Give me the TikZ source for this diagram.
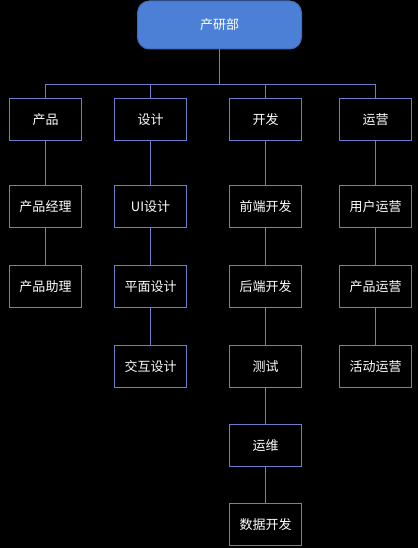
\documentclass[tikz,border=0pt]{standalone}
\usepackage{fontspec}
\setmainfont{Noto Sans CJK SC}
\definecolor{headfill}{RGB}{76,128,214}
\definecolor{headline}{RGB}{66,108,190}
\definecolor{boxline}{RGB}{110,126,204}
\begin{document}
\begin{tikzpicture}[x=1pt,y=-1pt,
    head/.style={draw=headline,fill=headfill,rounded corners=12pt,line width=1pt,
                 minimum width=164pt,minimum height=48pt,inner sep=0pt,text=white,font=\fontsize{13}{15}\selectfont},
    box/.style={draw=boxline,fill=black,line width=1.2pt,
                minimum width=72pt,minimum height=42pt,inner sep=0pt,text=white,font=\fontsize{13}{15}\selectfont},
    link/.style={draw=boxline,line width=1.2pt}]
    % background
    \fill [black] (0,0) rectangle (418,548);
    \useasboundingbox (0,0) rectangle (418,548);

    % top node
    \node [head] (dept) at (219.5,25) {产研部};

    % first level
    \node [box] (prod) at (45.5,119.5) {产品};
    \node [box] (design) at (150.5,119.5) {设计};
    \node [box] (dev) at (265.5,119.5) {开发};
    \node [box] (ops) at (375.5,119.5) {运营};

    % product column
    \node [box] (pm) at (45.5,206.5) {产品经理};
    \node [box] (pa) at (45.5,286.5) {产品助理};

    % design column
    \node [box] (ui) at (150.5,206.5) {UI设计};
    \node [box] (gd) at (150.5,286.5) {平面设计};
    \node [box] (ix) at (150.5,366.5) {交互设计};

    % development column
    \node [box] (fe) at (265.5,206.5) {前端开发};
    \node [box] (be) at (265.5,286.5) {后端开发};
    \node [box] (qa) at (265.5,366.5) {测试};
    \node [box] (sre) at (265.5,445.5) {运维};
    \node [box] (data) at (265.5,524.5) {数据开发};

    % operations column
    \node [box] (uo) at (375.5,206.5) {用户运营};
    \node [box] (po) at (375.5,286.5) {产品运营};
    \node [box] (ao) at (375.5,366.5) {活动运营};

    % connectors from top node
    \coordinate (bus) at (219.5,84.5);
    \draw [link] (dept.south) -- (bus);
    \foreach \n in {prod,design,dev,ops}
        \draw [link] (bus) -| (\n.north);

    % connectors in columns
    \draw [link] (prod.south) -- (pm.north);
    \draw [link] (pm.south) -- (pa.north);
    \draw [link] (design.south) -- (ui.north);
    \draw [link] (ui.south) -- (gd.north);
    \draw [link] (gd.south) -- (ix.north);
    \draw [link] (dev.south) -- (fe.north);
    \draw [link] (fe.south) -- (be.north);
    \draw [link] (be.south) -- (qa.north);
    \draw [link] (qa.south) -- (sre.north);
    \draw [link] (sre.south) -- (data.north);
    \draw [link] (ops.south) -- (uo.north);
    \draw [link] (uo.south) -- (po.north);
    \draw [link] (po.south) -- (ao.north);
\end{tikzpicture}
\end{document}
